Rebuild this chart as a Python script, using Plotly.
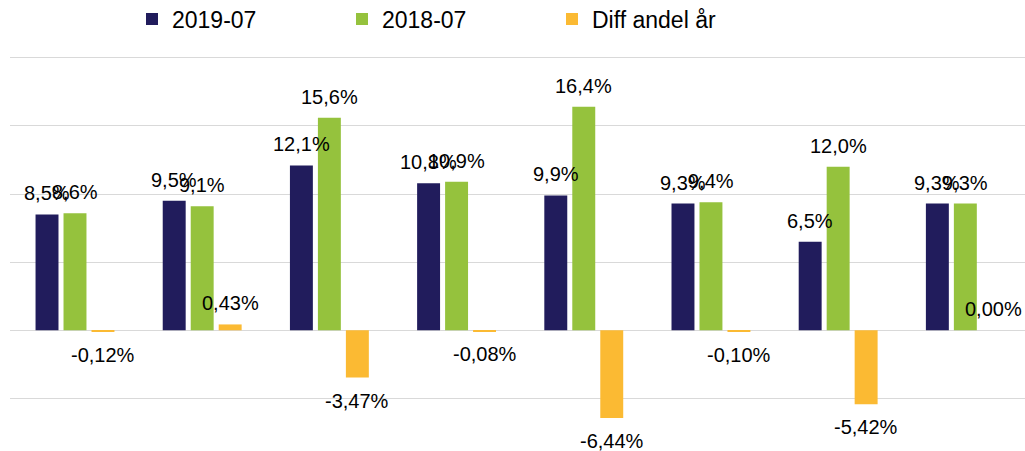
import plotly.graph_objects as go

# ---- data ----
categories = ["A", "B", "C", "D", "E", "F", "G", "H"]
series_names = ["2019-07", "2018-07", "Diff andel år"]
values_2019 = [8.5, 9.5, 12.1, 10.8, 9.9, 9.3, 6.5, 9.3]
values_2018 = [8.6, 9.1, 15.6, 10.9, 16.4, 9.4, 12.0, 9.3]
values_diff = [-0.12, 0.43, -3.47, -0.08, -6.44, -0.10, -5.42, 0.00]
decimals = [1, 1, 2]

colors = ["#211C5C", "#95C23D", "#FBBA33"]
FONT = "Liberation Sans, Arial, sans-serif"
BARGAP = 0.34
BARGROUPGAP = 0.18

x_idx = list(range(len(categories)))
all_series = [values_2019, values_2018, values_diff]


def fmt(v, d):
    return f"{v:.{d}f}".replace(".", ",") + "%"


fig = go.Figure()
for name, vals, col in zip(series_names, all_series, colors):
    fig.add_trace(go.Bar(
        x=x_idx, y=vals, name=name,
        marker=dict(color=col, line=dict(width=0)),
        hoverinfo="skip",
    ))

# data labels (outside end), positioned from the same bar layout parameters
slot = (1 - BARGAP) / len(all_series)
annotations = []
for j, (vals, d) in enumerate(zip(all_series, decimals)):
    off = (j - (len(all_series) - 1) / 2) * slot
    for i, v in zip(x_idx, vals):
        pos = v >= 0
        annotations.append(dict(
            x=i + off, y=v, xref="x", yref="y",
            text=fmt(v, d), showarrow=False,
            xanchor="center",
            yanchor="bottom" if pos else "top",
            yshift=8 if pos else -10,
            font=dict(family=FONT, size=20, color="#000000"),
        ))

fig.update_layout(
    width=1025, height=451,
    margin=dict(l=10, r=0, t=51, b=0),
    paper_bgcolor="white", plot_bgcolor="white",
    barmode="group", bargap=BARGAP, bargroupgap=BARGROUPGAP,
    font=dict(family=FONT, color="#000000"),
    showlegend=True,
    legend=dict(
        orientation="h",
        xref="container", yref="container",
        x=132 / 1025, xanchor="left",
        y=1 - 19 / 451, yanchor="middle",
        entrywidth=165, entrywidthmode="pixels",
        font=dict(family=FONT, size=23, color="#000000"),
        bgcolor="rgba(0,0,0,0)",
        traceorder="normal",
    ),
    xaxis=dict(
        range=[-0.511, 7.469], showticklabels=False, showgrid=False,
        zeroline=False, showline=False, ticks="",
    ),
    yaxis=dict(
        range=[-8.86, 20.5], dtick=5, tick0=0,
        showticklabels=False, ticks="",
        showgrid=True, gridcolor="#D9D9D9", gridwidth=1,
        zeroline=True, zerolinecolor="#D9D9D9", zerolinewidth=1,
        showline=False,
    ),
    annotations=annotations,
)

fig.write_html("out.html", config={"displayModeBar": False})

# remove the default page margin so the figure sits at the window's corner
with open("out.html", "r", encoding="utf-8") as f:
    html = f.read()
html = html.replace("<body>", '<body style="margin:0;padding:0;overflow:hidden;">', 1)
with open("out.html", "w", encoding="utf-8") as f:
    f.write(html)
